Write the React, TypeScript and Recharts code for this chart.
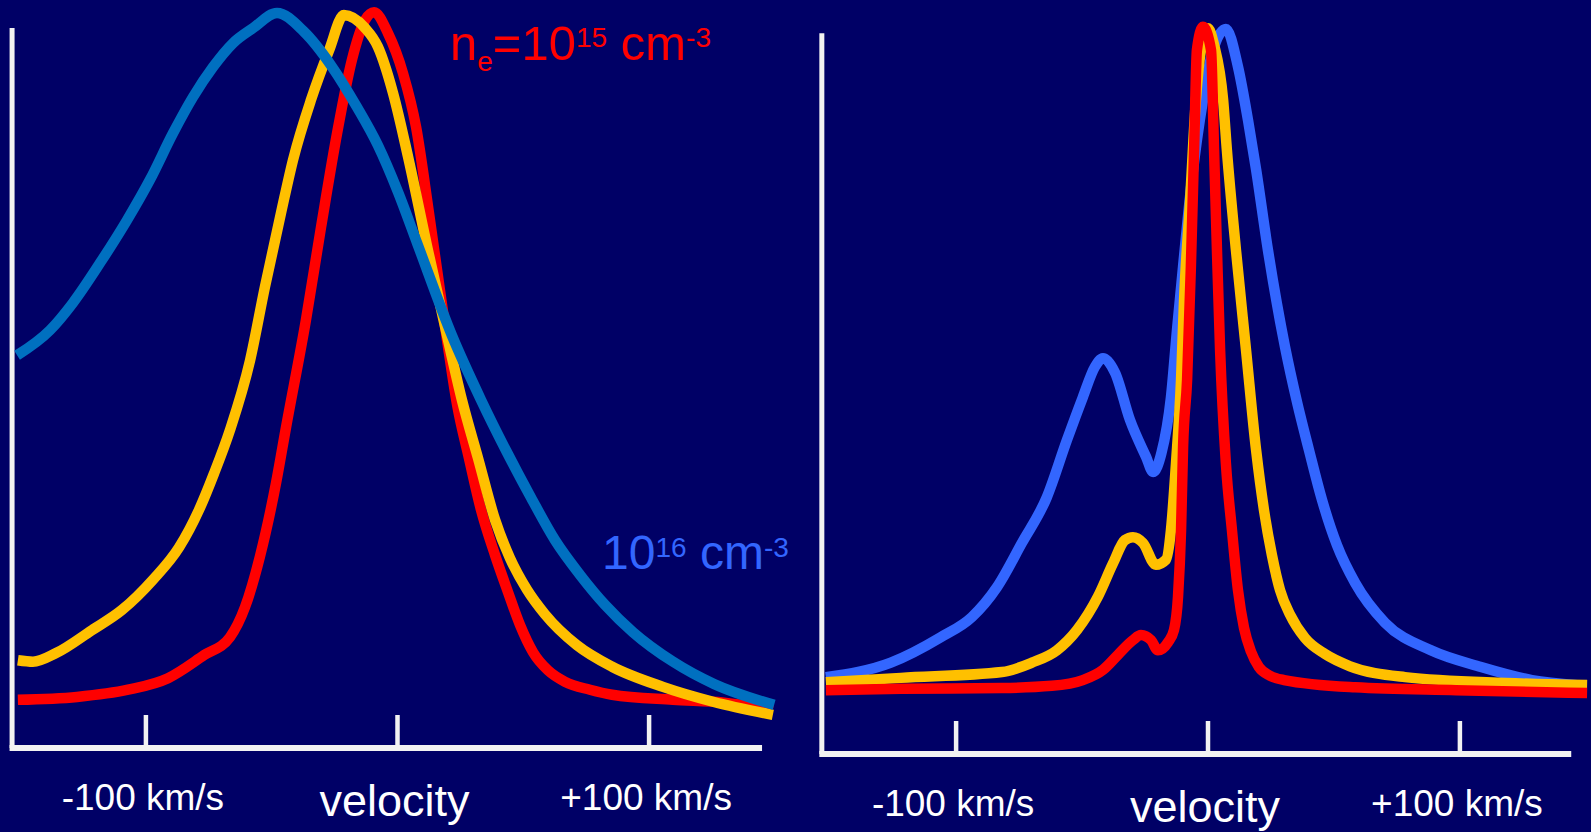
import React from 'react';
import { LineChart, Line, XAxis, YAxis, ReferenceLine } from 'recharts';

type Pt = [number, number];

// Each profile: [velocity km/s, relative intensity]
// left panel: line profiles
const leftBlue: Pt[] = [
    [-151.2, 54.6], [-138.1, 58.1], [-129.0, 61.9], [-118.3, 67.4], [-107.5, 73.4],
    [-98.4, 79.0], [-89.2, 85.5], [-81.3, 90.5], [-73.3, 94.7], [-65.4, 98.0],
    [-57.4, 100.1], [-47.9, 102.2], [-37.2, 99.6], [-26.0, 94.7], [-16.1, 89.1],
    [-7.8, 83.8], [0.2, 77.3], [7.8, 70.2], [21.7, 57.3], [33.2, 48.4],
    [43.1, 41.4], [53.1, 34.8], [62.6, 28.9], [72.5, 24.1], [82.5, 19.9],
    [93.6, 16.1], [109.5, 12.0], [125.8, 8.9], [149.7, 6.0],
];

const leftYellow: Pt[] = [
    [-150.9, 12.2], [-144.9, 12.0], [-135.7, 13.2], [-121.4, 16.4], [-109.5, 19.2],
    [-97.2, 23.4], [-86.8, 27.9], [-78.9, 33.1], [-72.9, 38.2], [-66.6, 44.2],
    [-58.6, 53.9], [-52.7, 64.1], [-46.3, 74.4], [-41.5, 81.8], [-34.4, 90.1],
    [-27.2, 97.0], [-21.3, 101.9], [-12.9, 100.1], [-7.8, 97.5], [-1.8, 91.1],
    [4.2, 82.2], [12.1, 69.2], [20.1, 56.7], [25.6, 48.4], [32.0, 40.3],
    [38.8, 31.7], [44.7, 26.4], [51.5, 22.0], [58.6, 18.6], [71.3, 14.3],
    [85.3, 11.3], [105.5, 8.5], [125.8, 6.4], [149.2, 4.6],
];

const leftRed: Pt[] = [
    [-150.9, 6.7], [-127.4, 7.1], [-107.1, 8.1], [-91.2, 9.7], [-76.9, 12.9],
    [-66.6, 15.4], [-60.6, 19.6], [-54.7, 26.6], [-48.3, 36.8], [-44.3, 44.6],
    [-36.4, 59.5], [-30.4, 72.4], [-24.0, 85.5], [-18.1, 95.7], [-12.9, 101.2],
    [-9.3, 102.3], [-3.8, 99.4], [2.2, 93.8], [7.4, 86.3], [12.5, 74.4],
    [19.7, 56.7], [23.7, 47.7], [28.4, 40.3], [33.2, 33.1], [38.8, 26.8],
    [43.9, 21.7], [48.7, 17.1], [53.9, 13.3], [59.8, 10.8], [66.6, 9.2],
    [76.5, 8.1], [85.3, 7.4], [109.5, 6.7], [129.8, 6.3], [149.2, 5.3],
];

// right panel
const rightBlue: Pt[] = [
    [-151.7, 10.6], [-125.9, 12.6], [-106.1, 16.1], [-93.7, 18.9], [-83.8, 23.0],
    [-73.9, 29.1], [-64.0, 35.4], [-56.0, 43.3], [-49.7, 49.2], [-44.9, 53.4],
    [-41.7, 54.6], [-36.9, 52.6], [-31.0, 46.1], [-24.6, 41.0], [-21.8, 38.9],
    [-18.5, 41.5], [-14.7, 49.2], [-12.3, 58.5], [-9.9, 67.2], [-6.4, 79.2],
    [-2.0, 90.2], [2.0, 97.1], [7.1, 100.0], [11.9, 94.8], [15.9, 87.4],
    [19.1, 80.6], [23.8, 69.5], [30.6, 56.1], [35.3, 48.6], [40.1, 41.9],
    [45.3, 35.0], [51.2, 28.8], [58.4, 23.6], [70.3, 18.1], [88.5, 14.3],
    [108.4, 12.0], [128.6, 10.2], [146.5, 9.5],
];

const rightYellow: Pt[] = [
    [-151.7, 9.9], [-121.9, 10.5], [-81.8, 11.3], [-69.9, 12.6], [-60.0, 14.3],
    [-52.0, 17.1], [-43.7, 21.7], [-37.7, 26.3], [-33.0, 29.5], [-29.8, 29.9],
    [-25.8, 29.1], [-20.7, 26.1], [-16.7, 26.8], [-14.7, 30.9], [-12.7, 40.1],
    [-10.7, 51.6], [-9.5, 62.6], [-7.1, 76.4], [-4.8, 90.2], [-2.8, 97.1],
    [0.0, 100.1], [2.4, 97.8], [6.0, 90.2], [7.5, 83.3], [11.1, 69.5],
    [15.1, 55.7], [19.1, 41.9], [22.2, 33.7], [25.4, 27.4], [28.6, 22.6],
    [32.6, 19.2], [38.5, 16.0], [46.4, 13.8], [56.4, 12.1], [78.2, 10.6],
    [118.3, 9.8], [150.5, 9.5],
];

const rightRed: Pt[] = [
    [-151.7, 8.8], [-121.9, 9.0], [-81.8, 9.1], [-62.0, 9.4], [-49.7, 10.2],
    [-41.7, 11.6], [-35.7, 13.7], [-29.8, 15.7], [-26.6, 16.4], [-22.6, 15.7],
    [-19.9, 14.3], [-15.9, 15.4], [-13.5, 17.1], [-11.9, 21.7], [-10.7, 30.9],
    [-9.9, 42.3], [-8.3, 51.6], [-6.8, 67.2], [-5.4, 85.0], [-4.4, 97.1],
    [-2.0, 100.3], [1.2, 97.1], [2.4, 83.3], [3.6, 69.0], [4.8, 55.7],
    [7.1, 40.1], [9.5, 30.9], [11.9, 22.6], [14.3, 17.4], [17.1, 14.1],
    [20.2, 12.0], [24.6, 10.8], [30.2, 10.2], [58.4, 9.2], [98.5, 8.8],
    [150.5, 8.4],
];

const TICK_VALUES = [-100, 0, 100];
const TICK_LABELS = ['-100 km/s', 'velocity', '+100 km/s'];

const BG = '#000066';
const AXIS = '#F2F2F2';
const RED = '#FF0000';
const YELLOW = '#FFC000';
const FONT = "'Liberation Sans', Arial, Helvetica, sans-serif";

const X_DOMAIN: [number, number] = [-158, 158];
const Y_DOMAIN: [number, number] = [0, 104];
const HEIGHT = 832;

const toRows = (pts: Pt[]) => pts.map(([v, y]) => ({ v, y }));

const AxisTick = (props: any) => {
    const { x, y, payload } = props;
    const idx = TICK_VALUES.indexOf(payload.value);
    const center = payload.value === 0;
    return (
        <g>
            <line x1={x} y1={y - 33} x2={x} y2={y} stroke={AXIS} strokeWidth={4.5} />
            <text
                x={x - 3}
                y={y + (center ? 68 : 62)}
                textAnchor="middle"
                fill="#FFFFFF"
                fontFamily={FONT}
                fontSize={center ? 45 : 37}
            >
                {TICK_LABELS[idx]}
            </text>
        </g>
    );
};

interface Series {
    data: Pt[];
    color: string;
}

interface PanelProps {
    left: number;
    width: number;
    axisHeight: number;
    yAxisAt: number;
    yAxisTop: number;
    xAxisEnd: number;
    series: Series[];
}

const Panel: React.FC<PanelProps> = ({ left, width, axisHeight, yAxisAt, yAxisTop, xAxisEnd, series }) => (
    <div style={{ position: 'absolute', left, top: 0 }}>
        <LineChart width={width} height={HEIGHT} margin={{ top: 0, right: 0, bottom: 0, left: 0 }}>
            <XAxis
                dataKey="v"
                type="number"
                domain={X_DOMAIN}
                ticks={TICK_VALUES}
                interval={0}
                axisLine={false}
                tickLine={false}
                tickSize={0}
                tickMargin={0}
                height={axisHeight}
                tick={(p: any) => <AxisTick {...p} />}
            />
            <YAxis hide type="number" domain={Y_DOMAIN} />
            <ReferenceLine
                segment={[{ x: yAxisAt, y: 0 }, { x: yAxisAt, y: yAxisTop }]}
                stroke={AXIS}
                strokeWidth={5}
                ifOverflow="visible"
            />
            <ReferenceLine
                segment={[{ x: yAxisAt - 1, y: 0 }, { x: xAxisEnd, y: 0 }]}
                stroke={AXIS}
                strokeWidth={6}
                ifOverflow="visible"
            />
            {series.map((s, i) => (
                <Line
                    key={i}
                    data={toRows(s.data)}
                    dataKey="y"
                    type="monotone"
                    stroke={s.color}
                    strokeWidth={10.5}
                    dot={false}
                    activeDot={false}
                    isAnimationActive={false}
                />
            ))}
        </LineChart>
    </div>
);

const App: React.FC = () => (
    <div
        style={{
            position: 'absolute',
            left: 0,
            top: 0,
            width: 1591,
            height: HEIGHT,
            background: BG,
            overflow: 'hidden',
        }}
    >
        <Panel
            left={0}
            width={795}
            axisHeight={84}
            yAxisAt={-153.2}
            yAxisTop={100.1}
            xAxisEnd={144.9}
            series={[
                { data: leftRed, color: RED },
                { data: leftYellow, color: YELLOW },
                { data: leftBlue, color: '#0070C0' },
            ]}
        />
        <Panel
            left={810}
            width={796}
            axisHeight={78}
            yAxisAt={-153.3}
            yAxisTop={99.4}
            xAxisEnd={144.2}
            series={[
                { data: rightBlue, color: '#3366FF' },
                { data: rightYellow, color: YELLOW },
                { data: rightRed, color: RED },
            ]}
        />
        <svg
            width={1591}
            height={HEIGHT}
            style={{ position: 'absolute', left: 0, top: 0, pointerEvents: 'none' }}
        >
            <text x={450} y={60} fill={RED} fontFamily={FONT} fontSize={49}>
                n<tspan fontSize={28} dy={11}>e</tspan>
                <tspan dy={-11}>=10</tspan>
                <tspan fontSize={28} dy={-13}>15</tspan>
                <tspan dy={13}> cm</tspan>
                <tspan fontSize={28} dy={-13}>-3</tspan>
            </text>
            <text x={602} y={569} fill="#3366FF" fontFamily={FONT} fontSize={48}>
                10<tspan fontSize={28} dy={-12}>16</tspan>
                <tspan dy={12}> cm</tspan>
                <tspan fontSize={28} dy={-12}>-3</tspan>
            </text>
        </svg>
    </div>
);

export default App;
